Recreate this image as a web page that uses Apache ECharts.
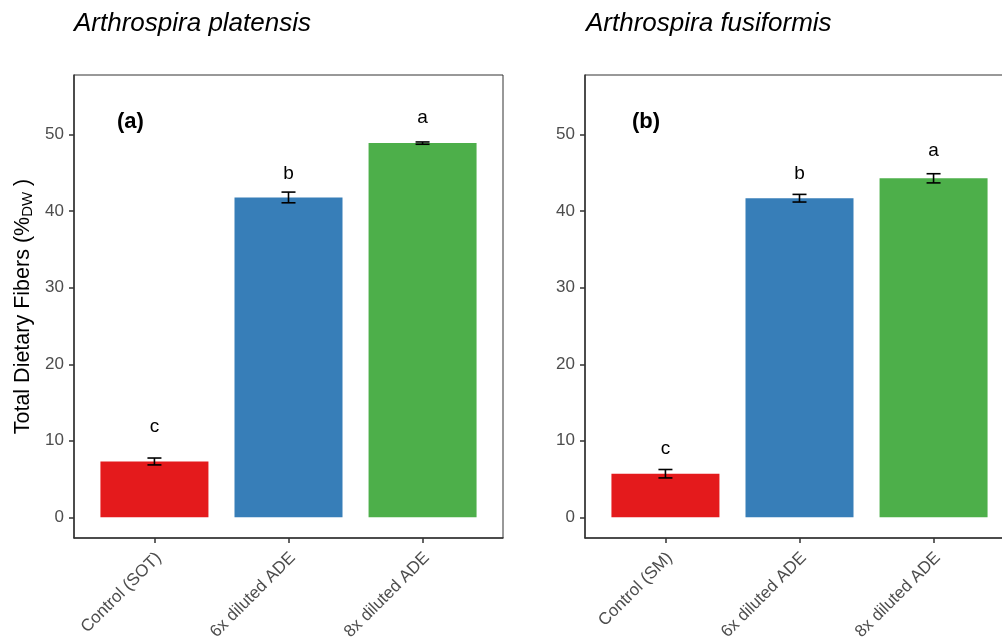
<!DOCTYPE html>
<html>
<head>
<meta charset="utf-8">
<title>Total Dietary Fibers</title>
<script src="https://cdn.jsdelivr.net/npm/echarts@6/dist/echarts.min.js"></script>
<style>
  html, body { margin: 0; padding: 0; background: #fff; }
  #chart { width: 1002px; height: 642px; }
</style>
</head>
<body>
<div id="chart"></div>
<script>
// Total dietary fibers (% of dry weight), mean ± error, per culture medium
const categoriesA = ['Control (SOT)', '6x diluted ADE', '8x diluted ADE'];
const categoriesB = ['Control (SM)', '6x diluted ADE', '8x diluted ADE'];

const meanA = [7.3, 41.8, 48.9];
const errA = [0.45, 0.7, 0.15];
const lettersA = ['c', 'b', 'a'];
const letterHeightA = [11.8, 44.9, 52.2];

const meanB = [5.7, 41.7, 44.3];
const errB = [0.55, 0.5, 0.6];
const lettersB = ['c', 'b', 'a'];
const letterHeightB = [8.9, 44.9, 47.9];

const yTicks = [0, 10, 20, 30, 40, 50];
const titles = ['Arthrospira platensis', 'Arthrospira fusiformis'];
const panelTags = ['(a)', '(b)'];
const barColors = ['#E41A1C', '#377EB8', '#4DAF4A'];

const FONT = '"Liberation Sans", Arial, Helvetica, sans-serif';
const xPositions = [1, 2, 3];

function barData(means) {
  return means.map((v, i) => ({
    value: [xPositions[i], v],
    itemStyle: { color: barColors[i] }
  }));
}
function errData(means, errs) {
  return means.map((v, i) => [xPositions[i], v, errs[i]]);
}
function letterData(heights) {
  return heights.map((h, i) => [xPositions[i], h]);
}

function renderErrorBar(params, api) {
  const x = api.value(0), m = api.value(1), e = api.value(2);
  const lo = api.coord([x, m - e]);
  const hi = api.coord([x, m + e]);
  const hw = 7;
  const st = { stroke: '#000', lineWidth: 1.6 };
  return {
    type: 'group',
    children: [
      { type: 'line', shape: { x1: lo[0], y1: lo[1], x2: hi[0], y2: hi[1] }, style: st },
      { type: 'line', shape: { x1: lo[0] - hw, y1: lo[1], x2: lo[0] + hw, y2: lo[1] }, style: st },
      { type: 'line', shape: { x1: hi[0] - hw, y1: hi[1], x2: hi[0] + hw, y2: hi[1] }, style: st }
    ]
  };
}

function letterRenderer(letters) {
  return function (params, api) {
    const p = api.coord([api.value(0), api.value(1)]);
    return {
      type: 'text',
      x: p[0], y: p[1],
      style: {
        text: letters[params.dataIndex],
        fill: '#000',
        font: '19px ' + FONT,
        align: 'center',
        verticalAlign: 'middle'
      }
    };
  };
}

function xAxis(gridIndex, cats) {
  return {
    type: 'value', gridIndex, min: 0.4, max: 3.6,
    axisLine: { show: true, onZero: false, lineStyle: { color: '#333', width: 1.5 } },
    axisTick: { show: true, customValues: xPositions, length: 5, lineStyle: { color: '#333', width: 1.5 } },
    axisLabel: {
      customValues: xPositions,
      formatter: v => cats[Math.round(v) - 1],
      rotate: 45, color: '#4D4D4D', fontSize: 17, fontFamily: FONT,
      margin: 13, verticalAlign: 'top', lineHeight: 12
    },
    splitLine: { show: false }
  };
}

function yAxis(gridIndex, withName) {
  return {
    type: 'value', gridIndex, min: -2.7, max: 57.8,
    axisLine: { show: true, onZero: false, lineStyle: { color: '#333', width: 1.5 } },
    axisTick: { show: true, customValues: yTicks, length: 5, lineStyle: { color: '#333', width: 1.5 } },
    axisLabel: { customValues: yTicks, color: '#4D4D4D', fontSize: 17, fontFamily: FONT, margin: 10 },
    splitLine: { show: false },
    name: withName ? '{m|Total Dietary Fibers (%}{s|DW}{m| )}' : '',
    nameLocation: 'middle',
    nameRotate: 90,
    nameGap: 39,
    nameTextStyle: {
      rich: {
        m: { fontSize: 21.5, color: '#000', fontFamily: FONT },
        s: { fontSize: 15, color: '#000', fontFamily: FONT, padding: [8, 0, 0, 0] }
      }
    }
  };
}

const chart = echarts.init(document.getElementById('chart'), null, { renderer: 'canvas' });

const gridBase = {
  width: 429, top: 75, bottom: 104,
  show: true, borderColor: '#333', borderWidth: 1, backgroundColor: 'transparent',
  outerBoundsMode: 'none', containLabel: false
};

chart.setOption({
  backgroundColor: '#fff',
  animation: false,
  grid: [
    Object.assign({ left: 74 }, gridBase),
    Object.assign({ left: 585 }, gridBase)
  ],
  xAxis: [xAxis(0, categoriesA), xAxis(1, categoriesB)],
  yAxis: [yAxis(0, true), yAxis(1, false)],
  series: [
    { type: 'bar', xAxisIndex: 0, yAxisIndex: 0, barWidth: 108, data: barData(meanA) },
    { type: 'bar', xAxisIndex: 1, yAxisIndex: 1, barWidth: 108, data: barData(meanB) },
    { type: 'custom', xAxisIndex: 0, yAxisIndex: 0, renderItem: letterRenderer(lettersA), data: letterData(letterHeightA), z: 5 },
    { type: 'custom', xAxisIndex: 1, yAxisIndex: 1, renderItem: letterRenderer(lettersB), data: letterData(letterHeightB), z: 5 },
    { type: 'custom', xAxisIndex: 0, yAxisIndex: 0, renderItem: renderErrorBar, data: errData(meanA, errA), z: 6 },
    { type: 'custom', xAxisIndex: 1, yAxisIndex: 1, renderItem: renderErrorBar, data: errData(meanB, errB), z: 6 }
  ],
  graphic: [
    { type: 'text', left: 74, top: 11, style: { text: titles[0], font: 'italic 26px ' + FONT, fill: '#000' } },
    { type: 'text', left: 586, top: 11, style: { text: titles[1], font: 'italic 26px ' + FONT, fill: '#000' } },
    { type: 'text', left: 117, top: 111, style: { text: panelTags[0], font: 'bold 22px ' + FONT, fill: '#000' } },
    { type: 'text', left: 632, top: 111, style: { text: panelTags[1], font: 'bold 22px ' + FONT, fill: '#000' } }
  ]
});
</script>
</body>
</html>
